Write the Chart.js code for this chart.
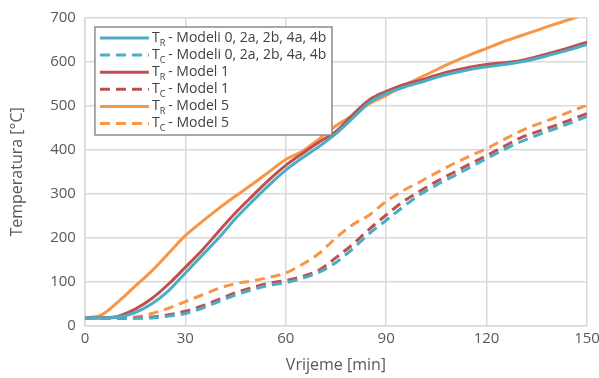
<!DOCTYPE html>
<html lang="hr">
<head>
  <meta charset="UTF-8">
  <title>Temperatura - vrijeme</title>
  <script src="https://cdn.jsdelivr.net/npm/chart.js"></script>
  <style>
    body { margin: 0; background: #fff; }
    #wrap { width: 599px; height: 378px; }
  </style>
</head>
<body>
  <div id="wrap"><canvas id="chart" width="599" height="378"></canvas></div>

  <script>
    // time axis (min)
    const minutes = [0, 5, 10, 15, 20, 25, 30, 35, 40, 45, 50, 55, 60, 65, 70, 75,
                     80, 85, 90, 95, 100, 105, 110, 115, 120, 125, 130, 135, 140, 145, 150];

    // temperatures
    const trModeli = [18, 18, 20, 30, 50, 80, 120, 160, 200, 244, 283, 320, 354, 382, 408, 437,
                      472, 508, 528, 542, 553, 565, 575, 583, 589, 594, 600, 608, 618, 628, 640];
    const tcModeli = [17, 17, 17, 17, 18, 22, 28, 40, 55, 70, 82, 92, 98, 108, 122, 144,
                      175, 210, 240, 270, 298, 320, 340, 360, 380, 400, 418, 433, 447, 461, 476];
    const trModel1 = [18, 18, 22, 38, 62, 95, 133, 172, 215, 257, 295, 332, 365, 392, 418, 442,
                      480, 514, 533, 548, 558, 570, 580, 588, 594, 598, 603, 612, 622, 633, 645];
    const tcModel1 = [18, 18, 17, 18, 20, 25, 33, 45, 60, 75, 87, 97, 103, 112, 127, 155,
                      185, 220, 252, 282, 306, 328, 348, 368, 387, 407, 427, 441, 454, 468, 483];
    const trModel5 = [18, 25, 55, 90, 125, 165, 205, 237, 267, 295, 322, 350, 378, 397, 425, 455,
                      478, 505, 524, 545, 564, 582, 600, 616, 631, 646, 659, 672, 685, 697, 710];
    const tcModel5 = [18, 18, 18, 20, 28, 40, 55, 70, 85, 96, 102, 110, 120, 140, 165, 200,
                      230, 252, 283, 307, 327, 348, 368, 386, 403, 423, 442, 458, 472, 487, 502];

    const xTicks = [0, 30, 60, 90, 120, 150];
    const yTicks = [0, 100, 200, 300, 400, 500, 600, 700];

    const subs = ['R', 'C', 'R', 'C', 'R', 'C'];
    const names = ['Modeli 0, 2a, 2b, 4a, 4b', 'Modeli 0, 2a, 2b, 4a, 4b',
                   'Model 1', 'Model 1', 'Model 5', 'Model 5'];
    const series = [trModeli, tcModeli, trModel1, tcModel1, trModel5, tcModel5];
    const colors = ['#4bacc6', '#4bacc6', '#c0504d', '#c0504d', '#f79646', '#f79646'];

    const FONT = '"Open Sans", sans-serif';
    const dash = [10, 6];

    const datasets = series.map((vals, i) => ({
      label: 'T' + subs[i] + ' - ' + names[i],
      sub: subs[i],
      name: names[i],
      data: minutes.map((m, k) => ({ x: m, y: vals[k] })),
      borderColor: colors[i],
      backgroundColor: colors[i],
      borderWidth: 3,
      borderDash: i % 2 === 1 ? dash : [],
      pointRadius: 0,
      cubicInterpolationMode: 'monotone',
      fill: false
    }));

    // legend with subscripts, drawn on the canvas
    const subLegend = {
      id: 'subLegend',
      afterDraw(chart) {
        const ctx = chart.ctx;
        const area = chart.chartArea;
        const x0 = area.left + 10, y0 = area.top + 9;
        const w = 237, h = 108, row = 17.1;
        ctx.save();
        ctx.fillStyle = '#fff';
        ctx.fillRect(x0, y0, w, h);
        ctx.strokeStyle = '#8c8c8c';
        ctx.lineWidth = 1.5;
        ctx.strokeRect(x0, y0, w, h);
        chart.data.datasets.forEach((ds, i) => {
          const y = y0 + 11 + i * row;
          ctx.beginPath();
          ctx.setLineDash(ds.borderDash);
          ctx.strokeStyle = ds.borderColor;
          ctx.lineWidth = 3;
          ctx.moveTo(x0 + 5, y);
          ctx.lineTo(x0 + 54, y);
          ctx.stroke();
          ctx.setLineDash([]);
          ctx.fillStyle = '#404040';
          ctx.textBaseline = 'middle';
          ctx.font = '14px ' + FONT;
          let tx = x0 + 57;
          ctx.fillText('T', tx, y);
          tx += ctx.measureText('T').width;
          ctx.font = '9px ' + FONT;
          ctx.fillText(ds.sub, tx, y + 5);
          tx += ctx.measureText(ds.sub).width + 3;
          ctx.font = '14px ' + FONT;
          ctx.fillText('- ' + ds.name, tx, y);
        });
        ctx.restore();
      }
    };

    new Chart(document.getElementById('chart'), {
      type: 'line',
      data: { datasets: datasets },
      options: {
        responsive: false,
        animation: false,
        layout: { padding: { left: 8, right: 0, top: 14, bottom: 3 } },
        plugins: {
          legend: { display: false },
          tooltip: { enabled: false }
        },
        scales: {
          x: {
            type: 'linear',
            min: 0,
            max: 150,
            afterBuildTicks: axis => { axis.ticks = xTicks.map(v => ({ value: v })); },
            afterFit: axis => { axis.paddingRight = 12; },
            grid: { color: '#d9d9d9', lineWidth: 1.5, drawTicks: false },
            border: { color: '#d9d9d9', width: 1.5 },
            ticks: { color: '#595959', font: { family: FONT, size: 15 }, padding: 4, maxRotation: 0 },
            title: { display: true, text: 'Vrijeme [min]', color: '#595959',
                     font: { family: FONT, size: 16 }, padding: { top: 4, bottom: 0 } }
          },
          y: {
            min: 0,
            max: 700,
            afterBuildTicks: axis => { axis.ticks = yTicks.map(v => ({ value: v })); },
            grid: { color: '#d9d9d9', lineWidth: 1.5, drawTicks: false },
            border: { color: '#d9d9d9', width: 1.5 },
            ticks: { color: '#595959', font: { family: FONT, size: 15 }, padding: 9 },
            title: { display: true, text: 'Temperatura [°C]', color: '#595959',
                     font: { family: FONT, size: 16 }, padding: { top: 0, bottom: 14 } }
          }
        }
      },
      plugins: [subLegend]
    });
  </script>
</body>
</html>
